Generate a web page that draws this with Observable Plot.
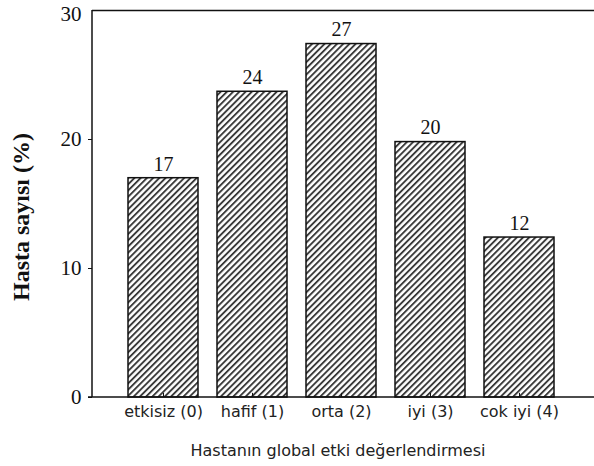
<!DOCTYPE html>
<html>
<head>
<meta charset="utf-8">
<script src="https://cdn.jsdelivr.net/npm/d3@7"></script>
<script src="https://cdn.jsdelivr.net/npm/@observablehq/plot@0.6"></script>
<style>
  html, body { margin: 0; padding: 0; background: #fff; }
  #chart svg { display: block; }
</style>
</head>
<body>
<div id="chart"></div>
<script>
const categories = ["etkisiz (0)", "hafif (1)", "orta (2)", "iyi (3)", "cok iyi (4)"];
const values = [17.0, 23.7, 27.4, 19.8, 12.4];
const valueLabels = ["17", "24", "27", "20", "12"];
const yTicks = [0, 10, 20];
const yTopTick = [30];
const xTitle = "Hastanın global etki değerlendirmesi";
const yTitle = "Hasta sayısı (%)";

const data = categories.map((c, i) => ({cat: c, value: values[i], label: valueLabels[i]}));

const defs = () => {
  const d = d3.create("svg:defs");
  const p = d.append("pattern")
    .attr("id", "hatch")
    .attr("patternUnits", "userSpaceOnUse")
    .attr("width", 4.4)
    .attr("height", 4.4)
    .attr("patternTransform", "rotate(45)");
  p.append("rect").attr("width", 4.4).attr("height", 4.4).attr("fill", "#fff");
  p.append("rect").attr("x", 0).attr("y", 0).attr("width", 1.9).attr("height", 4.4).attr("fill", "#3a3a3a");
  return d.node();
};

const chart = Plot.plot({
  width: 594,
  height: 466,
  marginTop: 10,
  marginBottom: 69,
  marginLeft: 92,
  marginRight: 0,
  style: {background: "#fff", color: "#111"},
  x: {domain: categories, range: [118.7, 563.7], paddingInner: 0.21, paddingOuter: 0.105, axis: null},
  y: {domain: [0, 30], axis: null},
  marks: [
    defs,
    Plot.barY(data, {x: "cat", y: "value", fill: "url(#hatch)", stroke: "#111", strokeWidth: 1.5}),
    Plot.ruleY([30], {stroke: "#111", strokeWidth: 1.5}),
    Plot.axisY({ticks: yTicks, tickSize: 4, tickPadding: 7, fontSize: 21, fontFamily: "Liberation Serif", tickFormat: d => d, label: null}),
    Plot.axisY({ticks: yTopTick, tickSize: 0, tickPadding: 11, dy: 4, fontSize: 21, fontFamily: "Liberation Serif", tickFormat: d => d, label: null}),
    Plot.axisX({tickSize: 0, tickPadding: 8, fontSize: 16, fontFamily: "DejaVu Sans", fill: "#222", label: null}),
    Plot.ruleX(data, {x: "cat", y1: 0, y2: 0.32, stroke: "#111", strokeWidth: 1}),
    Plot.text(data, {x: "cat", y: "value", text: "label", dy: -14, fontSize: 20, fontFamily: "Liberation Serif", fill: "#111"})
  ]
});

const svg = d3.select(chart);
// axis lines
svg.append("line")
  .attr("x1", 92).attr("x2", 92).attr("y1", 10).attr("y2", 397)
  .attr("stroke", "#111").attr("stroke-width", 1.5);
svg.append("line")
  .attr("x1", 88).attr("x2", 594).attr("y1", 397).attr("y2", 397)
  .attr("stroke", "#111").attr("stroke-width", 1.5);
svg.append("text")
  .attr("x", 338).attr("y", 456)
  .attr("text-anchor", "middle")
  .attr("font-family", "DejaVu Sans").attr("font-size", 16)
  .attr("fill", "#222")
  .text(xTitle);
svg.append("text")
  .attr("transform", "translate(29,217) rotate(-90)")
  .attr("text-anchor", "middle")
  .attr("font-family", "Liberation Serif").attr("font-size", 24).attr("font-weight", "bold")
  .attr("fill", "#111")
  .text(yTitle);

document.getElementById("chart").appendChild(chart);
</script>
</body>
</html>
